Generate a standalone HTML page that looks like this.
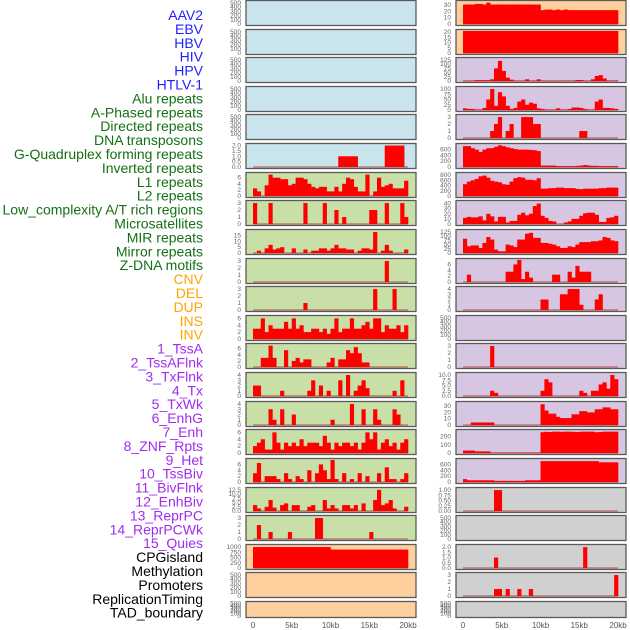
<!DOCTYPE html>
<html><head><meta charset="utf-8"><style>
html,body{margin:0;padding:0;background:#fff;}
svg{display:block;font-family:"Liberation Sans",sans-serif;}
</style></head><body>
<svg id="chart" width="630" height="630" viewBox="0 0 630 630" xmlns="http://www.w3.org/2000/svg"></svg>
<script>
const labels = ["AAV2","EBV","HBV","HIV","HPV","HTLV-1","Alu repeats","A-Phased repeats","Directed repeats","DNA transposons","G-Quadruplex forming repeats","Inverted repeats","L1 repeats","L2 repeats","Low_complexity A/T rich regions","Microsatellites","MIR repeats","Mirror repeats","Z-DNA motifs","CNV","DEL","DUP","INS","INV","1_TssA","2_TssAFlnk","3_TxFlnk","4_Tx","5_TxWk","6_EnhG","7_Enh","8_ZNF_Rpts","9_Het","10_TssBiv","11_BivFlnk","12_EnhBiv","13_ReprPC","14_ReprPCWk","15_Quies","CPGisland","Methylation","Promoters","ReplicationTiming","TAD_boundary"];
const xTickLabels = ["0","5kb","10kb","15kb","20kb"];
const xTickValues = [0,5,10,15,20];
const binKb = 0.5;
const empty = [0,0,0,0,0,0,0,0,0,0, 0,0,0,0,0,0,0,0,0,0, 0,0,0,0,0,0,0,0,0,0, 0,0,0,0,0,0,0,0,0,0];
const htlv = [0,0,0,0,0,0,0,0,0,0, 0,0,0,0,0,0,0,0,0,0, 0,0,1,1,1,1,1,0,0,0, 0,0,0,0,2,2,2,2,2,0];
const alu = [2.5,1.5,0,3.5,7,6,6,5.5,5.5,3.5, 4,6,6,5.5,4,3,2.5,3,3,1.5, 1.5,3,1.5,4,6,5.5,3,1.5,1.5,7, 0,1.5,6,3,3.5,4,2.5,2.5,2.5,5];
const aPhased = [3,0,0,0,3,0,0,0,0,0, 0,0,0,3,0,0,0,0,3,0, 0,2,0,1,0,0,0,0,0,0, 2,2,0,0,3,0,0,0,3,1];
const directed = [0,2,0,4,7,3,4,5,0,0, 4,0,0,3,0,2,2,4,4,2, 4,7,4,4,3,3,0,2,4,4, 3,18,0,2,7,2,0,0,0,3];
const dnaTransposons = [0,0,0,0,0,0,0,0,0,0, 0,0,0,0,0,0,0,0,0,0, 0,0,0,0,0,0,0,0,0,0, 0,0,0,0,3,0,0,0,0,0];
const gQuad = [0,0,0,0,0,0,0,0,0,0, 0,0,0,1,0,0,0,0,0,0, 0,0,0,0,0,0,0,0,0,0, 0,3,0,0,0,0,3,0,0,0];
const inverted = [3,3,6,2,4,3,3,3,5,3, 6,3,4,2,2,3,3,2,3,1.5, 3,6,2,3,3,6,3,3,4,5, 3,6,6,2,4,3,3,4,2,4];
const l1 = [0,0,3,3,7,3,0,0,5.5,0, 2,3,1.5,2.5,2.5,0,0,0,0,1.5, 3,0,2.5,2.5,5.5,4.5,6.5,4.5,1.5,1.5, 0,0,0,0,0,0,0,0,0,0];
const l2 = [2,2,0,0,0,0,0,1,0,0, 0,0,0,0,1,3,0,2,0,1, 0,0,3,0,4,0,1,2,3,1.5, 0,0,0,0,0,0,1,0,3,0];
const lowComplexity = [0,0,0,0,3,1,0,3,0,0, 2,0,0,0,0,0,0,0,0,0, 1,0,0,0,0,4,0,0,3,0, 0,3,1,0,0,0,3,2,0,0];
const microsat = [2,3,4,1,1,6,3,1,3,2, 3,2,4,2,3,3,3,2,5,3, 1,3,2,3,3,2,3,1,3,6, 4,6,1,3,4,2,3,1,3,4];
const mir = [3,6.5,0,2,2,2,1,0,3,1, 0,2,1,0,4,0,3,6,4,1, 7.5,1,0,3,0,1,0,3,0,2, 0,0,3,0,5,1,1,0,1,3];
const mirror = [3.5,1.5,0,2.5,6.5,2,0,3.5,4.5,0, 3.5,3.5,0,0,2.5,3.5,0,0,6.5,1.5, 3.5,1.5,0,3.5,3.5,1.5,3.5,0,4.5,0, 0,6.5,12.5,3.5,4.5,6.5,1.5,0,0,2.5];
const zdna = [0,2,0,0,1,0,0,0,0,1, 0,0,0,0,0,0,3,3,0,0, 0,0,0,0,0,0,0,0,0,0, 1,0,0,0,0,0,0,0,0,0];
const cnv = [1000,1000,1000,1000,1000,1000,1000,1000,1000,1000, 1000,1000,1000,1000,1000,1000,1000,1000,1000,1000, 880,880,880,880,880,880,880,880,880,880, 880,880,880,880,880,880,880,880,880,880];
const ins = [31,31,31,32,32,31,34,31,31,31, 31,31,31,31,31,31,31,31,31,31, 22,23,23,22,23,22,23,22,22,22, 22,22,22,22,22,22,22,22,22,22];
const inv = [21,21,21,21,21,21,21,21,21,21, 21,21,21,21,21,21,21,21,21,21, 21,21,21,21,21,21,21,21,21,21, 21,21,21,21,21,21,21,21,21,21];
const tssA = [2,2,2,5,5,5,5,10,75,120, 60,20,8,2,2,2,10,2,2,10, 2,2,2,2,2,2,2,2,2,6, 6,2,2,10,30,35,15,3,3,3];
const tssAFlnk = [8,5,5,2,2,10,50,100,20,85, 65,20,5,10,40,50,25,35,30,8, 5,2,2,2,8,2,2,5,12,12, 10,5,2,2,40,50,10,10,8,5];
const txFlnk = [0,0,0,0,0,0,0,1,2,3, 0,1,2,0,0,3,3,3,2,2, 0,0,0,0,0,0,0,0,0,0, 1,1,0,0,0,0,0,0,0,0];
const tx = [720,720,650,600,520,600,650,650,700,750, 720,680,650,620,600,600,600,590,580,550, 50,50,50,50,30,30,30,30,30,40, 50,70,50,40,40,30,30,30,30,30];
const txWk = [450,550,600,650,750,780,700,580,550,520, 450,430,550,680,720,700,620,620,600,680, 280,280,300,300,320,320,300,300,300,270, 260,280,280,280,280,300,300,320,320,320];
const enhG = [12,14,13,13,15,7,20,15,5,14, 14,3,6,6,18,22,17,20,35,40, 16,12,6,5,0,0,3,5,10,10, 16,21,22,22,18,4,4,12,13,16];
const enh = [85,40,45,45,30,60,95,80,20,10, 10,50,45,35,80,80,115,120,90,90, 60,60,55,50,40,30,30,40,35,50, 65,65,65,70,70,75,95,90,75,70];
const znf = [0,2.5,0,0,0,0,0,0,0,0, 0,3.5,3.5,6,7.5,1,3.5,1.5,0,0, 0,0,0,2.5,2.5,0,0,3.5,1.5,5.5, 3.5,3.5,3.5,0,0,0,0,0,0,0];
const het = [0,0,0,0,0,0,0,0,0,0, 0,0,0,0,0,0,0,0,0,0, 2,2,0,0,0,3,3,4,4,4, 1,0,0,0,2,3,0,0,0,0];
const bivFlnk = [0,0,0,0,0,0,0,3,0,0, 0,0,0,0,0,0,0,0,0,0, 0,0,0,0,0,0,0,0,0,0, 0,0,0,0,0,0,0,0,0,0];
const enhBiv = [0,0,0,0,0,0,0,2.5,1.5,0, 0,0,0,0,0,0,0,0,0,0, 2.5,8,6.5,0,0,0,0,0,0,0, 2.5,1.5,0,2.5,2.5,5.5,6.5,3.5,10,8];
const reprPC = [0,0,4,4,4,4,4,4,0,0, 0,0,0,0,0,0,0,0,0,0, 33,23,18,18,13,11,11,11,17,17, 22,22,20,20,25,25,28,28,25,25];
const reprPCWk = [30,30,30,20,20,20,20,5,5,5, 5,5,5,5,5,5,5,5,5,5, 255,260,258,262,262,260,262,262,260,258, 262,262,262,262,255,258,262,262,262,262];
const quies = [100,60,60,60,60,60,60,60,40,40, 40,40,40,40,40,40,60,60,60,60, 720,720,720,720,720,720,720,720,720,720, 720,720,720,720,720,680,680,680,680,680];
const cpg = [0,0,0,0,0,0,0,0,1,1, 0,0,0,0,0,0,0,0,0,0, 0,0,0,0,0,0,0,0,0,0, 0,0,0,0,0,0,0,0,0,0];
const promoters = [0,0,0,0,0,0,0,0,1,0, 0,0,0,0,0,0,0,0,0,0, 0,0,0,0,0,0,0,0,0,0, 0,2,0,0,0,0,0,0,0,0];
const replTiming = [0,0,0,0,0,0,0,0,1,1, 0,1,0,0,1,0,0,1,0,0, 0,0,0,0,0,0,0,0,0,0, 0,0,0,0,0,0,0,0,0,3];

const t500 = [0,100,200,300,400,500];
const panels = [
 {s:empty,yl:525,t:t500,bg:"#c9e4ec"},{s:empty,yl:525,t:t500,bg:"#c9e4ec"},{s:empty,yl:525,t:t500,bg:"#c9e4ec"},
 {s:empty,yl:525,t:t500,bg:"#c9e4ec"},{s:empty,yl:525,t:t500,bg:"#c9e4ec"},
 {s:htlv,yl:2.05,t:[0,0.5,1,1.5,2],bg:"#c9e4ec",f:1},
 {s:alu,yl:7.2,t:[0,2,4,6],bg:"#c8e0a8"},{s:aPhased,yl:3.15,t:[0,1,2,3],bg:"#c8e0a8"},
 {s:directed,yl:18.9,t:[0,5,10,15],bg:"#c8e0a8"},{s:dnaTransposons,yl:3.15,t:[0,1,2,3],bg:"#c8e0a8"},
 {s:gQuad,yl:3.15,t:[0,1,2,3],bg:"#c8e0a8"},{s:inverted,yl:6.4,t:[0,2,4,6],bg:"#c8e0a8"},
 {s:l1,yl:7.2,t:[0,2,4,6],bg:"#c8e0a8"},{s:l2,yl:4.2,t:[0,1,2,3,4],bg:"#c8e0a8"},
 {s:lowComplexity,yl:4.2,t:[0,1,2,3,4],bg:"#c8e0a8"},{s:microsat,yl:6.4,t:[0,2,4,6],bg:"#c8e0a8"},
 {s:mir,yl:7.5,t:[0,2,4,6],bg:"#c8e0a8"},{s:mirror,yl:13,t:[0,2.5,5,7.5,10,12.5],bg:"#c8e0a8",f:1},
 {s:zdna,yl:3.15,t:[0,1,2,3],bg:"#c8e0a8"},{s:cnv,yl:1050,t:[0,250,500,750,1000],bg:"#ffd09e"},
 {s:empty,yl:525,t:t500,bg:"#ffd09e"},{s:empty,yl:525,t:t500,bg:"#ffd09e"},
 {s:ins,yl:35,t:[0,10,20,30],bg:"#ffd09e"},{s:inv,yl:21,t:[0,5,10,15,20],bg:"#ffd09e"},
 {s:tssA,yl:131,t:[0,25,50,75,100,125],bg:"#d6c6e2"},{s:tssAFlnk,yl:105,t:[0,25,50,75,100],bg:"#d6c6e2"},
 {s:txFlnk,yl:3.15,t:[0,1,2,3],bg:"#d6c6e2"},{s:tx,yl:760,t:[0,200,400,600],bg:"#d6c6e2"},
 {s:txWk,yl:840,t:[0,200,400,600,800],bg:"#d6c6e2"},{s:enhG,yl:43,t:[0,10,20,30,40],bg:"#d6c6e2"},
 {s:enh,yl:131,t:[0,25,50,75,100,125],bg:"#d6c6e2"},{s:znf,yl:7.5,t:[0,2,4,6],bg:"#d6c6e2"},
 {s:het,yl:4.2,t:[0,1,2,3,4],bg:"#d6c6e2"},{s:empty,yl:525,t:t500,bg:"#d6c6e2"},
 {s:bivFlnk,yl:3.15,t:[0,1,2,3],bg:"#d6c6e2"},{s:enhBiv,yl:10.5,t:[0,2.5,5,7.5,10],bg:"#d6c6e2",f:1},
 {s:reprPC,yl:35,t:[0,10,20,30],bg:"#d6c6e2"},{s:reprPCWk,yl:270,t:[0,100,200],bg:"#d6c6e2"},
 {s:quies,yl:760,t:[0,200,400,600],bg:"#d6c6e2"},{s:cpg,yl:1.05,t:[0,0.25,0.5,0.75,1],bg:"#d0d0d0",f:2},
 {s:empty,yl:525,t:t500,bg:"#d0d0d0"},{s:promoters,yl:2.1,t:[0,0.5,1,1.5,2],bg:"#d0d0d0",f:1},
 {s:replTiming,yl:3.15,t:[0,1,2,3],bg:"#d0d0d0"},{s:empty,yl:525,t:t500,bg:"#d0d0d0"}
];
const labelColors = i => i<6?"#1f1fff":i<19?"#157015":i<24?"#ffa500":i<39?"#a02cf0":"#000";

const NS="http://www.w3.org/2000/svg";
const svg=document.getElementById('chart');
function mk(tag,attrs,parent){const e=document.createElementNS(NS,tag);for(const k in attrs)e.setAttribute(k,attrs[k]);(parent||svg).appendChild(e);return e;}

labels.forEach((lab,i)=>{
  const t=mk('text',{x:203,y:15+i*13.9+5,'text-anchor':'end','font-size':'14',fill:labelColors(i)});
  t.textContent=lab;
  
  
});

const PXKB=7.75;
panels.forEach((p,idx)=>{
  const col=idx<22?0:1, row=idx%22;
  const px=col?456:246, x0=col?463:253;
  const top=Math.round(row*28.62)+0.5, h=row===21?16:25;
  const zeroY=top+h-1.5, plotTop=top+1.5;
  const yS=v=>zeroY-v/p.yl*(zeroY-plotTop);
  const xS=kb=>x0+kb*PXKB;
  const g=mk('g',{});
  
  
  mk('rect',{x:px,y:top,width:170,height:h,fill:p.bg,stroke:'#5a5a5a','stroke-width':1.3},g);
  const has=p.s.some(v=>v>0);
  if(has) mk('line',{x1:xS(0),x2:xS(20),y1:zeroY,y2:zeroY,stroke:'rgba(170,60,60,0.7)','stroke-width':1.3},g);
  p.s.forEach((v,k)=>{
    if(v<=0)return;
    const r=mk('rect',{x:xS(k*binKb),y:yS(v),width:binKb*PXKB+0.3,height:zeroY-yS(v),fill:'#ff0000'},g);
    
    
  });
  p.t.forEach(tv=>{
    const tt=mk('text',{x:px-5,y:yS(tv)+2,'text-anchor':'end','font-size':'6.5',fill:'#666'},g);
    tt.textContent=p.f?tv.toFixed(p.f):String(tv);
    
    
  });
});

[253,463].forEach((x0,c)=>{
  xTickValues.forEach((kb,i)=>{
    const t=mk('text',{x:x0+kb*PXKB,y:628,'text-anchor':'middle','font-size':'8',fill:'#555'});
    t.textContent=xTickLabels[i];
    
    
  });
});
</script>
</body></html>
